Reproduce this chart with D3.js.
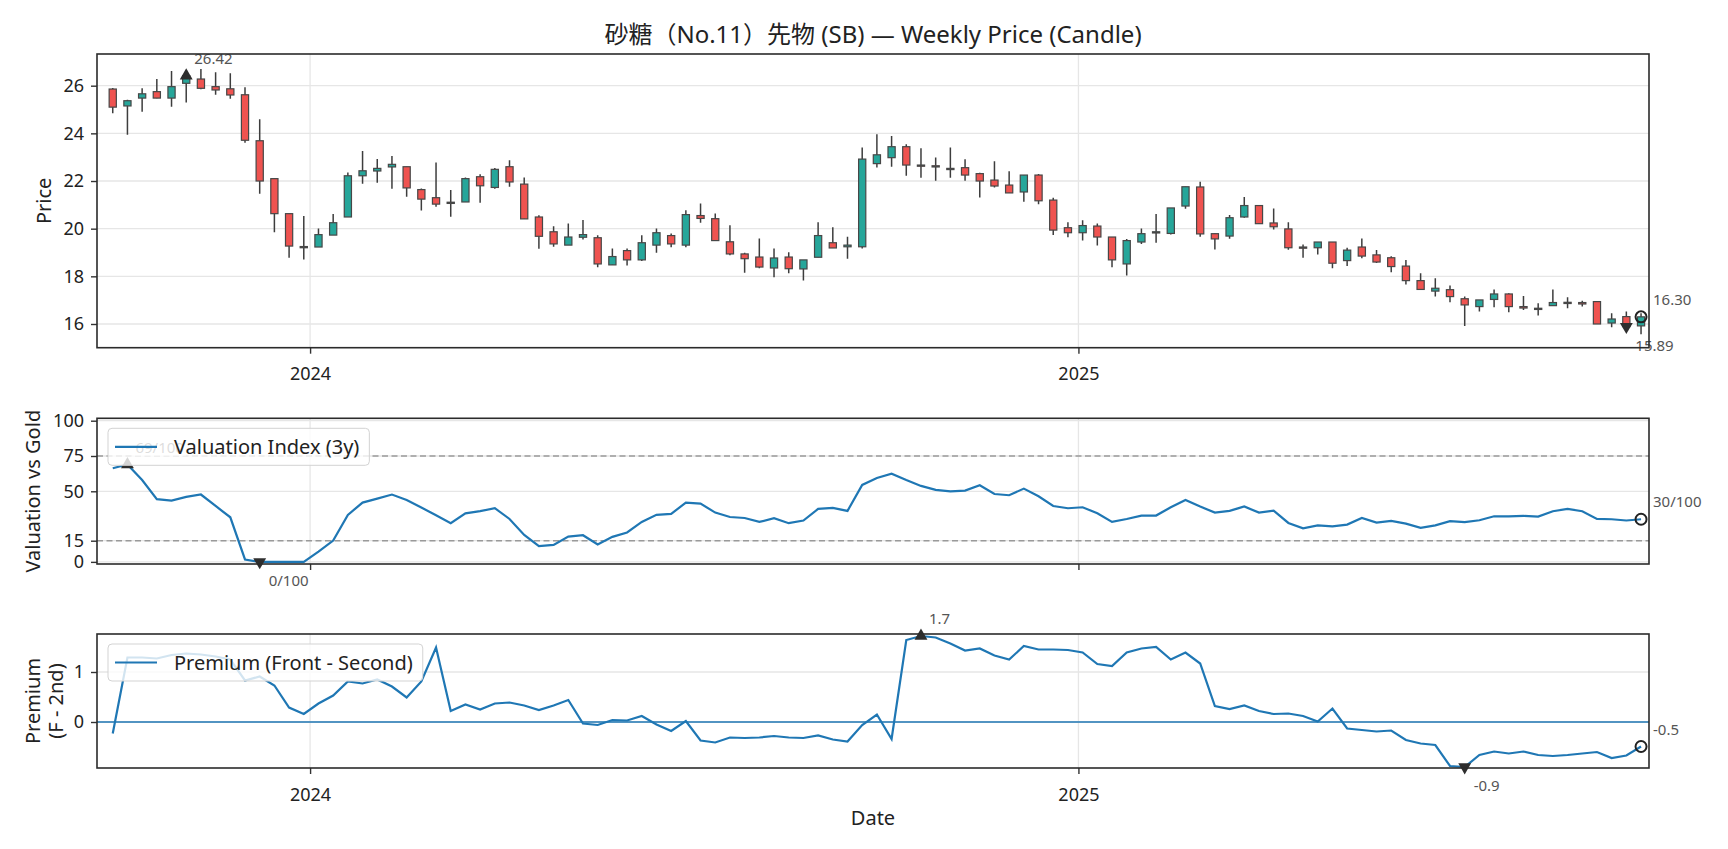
<!DOCTYPE html>
<html>
<head>
<meta charset="utf-8">
<script src="https://cdn.jsdelivr.net/npm/d3@7"></script>
<style>
  body { margin: 0; background: #fff; }
  text { font-family: "Noto Sans", "Noto Sans CJK JP", sans-serif; }
</style>
</head>
<body>
<div id="chart"></div>
<script>
// weekly bars, the first one closes on this date
var firstWeek = "2023-09-29";

var open = [25.86, 25.15, 25.48, 25.75, 25.48, 26.10, 26.28, 25.96, 25.87, 25.62,
  23.69, 22.10, 20.63, 19.25, 19.23, 19.73, 20.49, 22.22, 22.42, 22.59,
  22.60, 21.64, 21.30, 21.10, 21.12, 22.18, 21.73, 22.60, 21.87, 20.49,
  19.87, 19.31, 19.64, 19.62, 18.48, 19.08, 18.69, 19.31, 19.71, 19.31,
  20.55, 20.42, 19.45, 18.94, 18.81, 18.35, 18.81, 18.31, 18.80, 19.41,
  19.24, 19.24, 22.73, 22.98, 23.44, 22.67, 22.64, 22.53, 22.56, 22.31,
  22.04, 21.83, 21.54, 22.25, 21.20, 20.04, 19.83, 20.11, 19.65, 18.52,
  19.44, 19.85, 19.80, 20.95, 21.75, 19.79, 19.69, 20.49, 20.97, 20.24,
  19.99, 19.23, 19.20, 19.44, 18.66, 19.23, 18.90, 18.78, 18.43, 17.82,
  17.38, 17.44, 17.06, 16.73, 17.03, 17.26, 16.73, 16.63, 16.77, 16.91,
  16.90, 16.94, 16.04, 16.31, 15.92];
var high = [25.90, 25.41, 25.89, 26.28, 26.62, 26.42, 26.70, 26.56, 26.52, 25.93,
  24.59, 22.10, 20.63, 20.53, 20.01, 20.62, 22.36, 23.26, 22.92, 23.05,
  22.60, 21.69, 22.78, 21.62, 22.15, 22.28, 22.55, 22.87, 22.15, 20.56,
  20.10, 20.22, 20.36, 19.72, 19.17, 19.17, 19.72, 20.01, 19.80, 20.77,
  21.06, 20.64, 20.14, 18.99, 19.59, 19.17, 19.01, 18.69, 20.27, 20.06,
  19.66, 23.41, 23.96, 23.89, 23.54, 23.37, 22.99, 23.41, 22.91, 22.35,
  22.83, 22.41, 22.25, 22.29, 21.30, 20.27, 20.35, 20.22, 19.65, 19.57,
  20.01, 20.62, 20.87, 21.76, 21.97, 19.80, 20.57, 21.33, 20.97, 20.85,
  20.27, 19.34, 19.44, 19.44, 19.20, 19.59, 19.10, 18.84, 18.69, 18.13,
  17.92, 17.61, 17.15, 17.01, 17.45, 17.29, 17.17, 16.87, 17.45, 17.12,
  16.98, 16.94, 16.45, 16.52, 16.45];
var low = [24.84, 23.94, 24.91, 25.47, 25.12, 25.29, 25.85, 25.62, 25.45, 23.61,
  21.47, 19.85, 18.78, 18.71, 19.23, 19.73, 20.49, 21.89, 21.93, 21.68,
  21.34, 20.76, 20.92, 20.50, 21.12, 21.09, 21.68, 21.76, 20.41, 19.16,
  19.24, 19.31, 19.55, 18.38, 18.48, 18.45, 18.64, 18.99, 19.22, 19.22,
  20.25, 19.50, 18.88, 18.15, 18.34, 17.96, 18.13, 17.82, 18.80, 19.19,
  18.74, 19.17, 22.57, 22.60, 22.22, 22.14, 22.01, 22.14, 22.01, 21.31,
  21.73, 21.50, 21.13, 21.03, 19.73, 19.64, 19.50, 19.29, 18.38, 18.03,
  19.36, 19.41, 19.76, 20.84, 19.66, 19.13, 19.58, 20.46, 20.20, 19.97,
  19.12, 18.78, 18.92, 18.34, 18.43, 18.76, 18.56, 18.17, 17.66, 17.43,
  17.15, 16.91, 15.92, 16.52, 16.70, 16.49, 16.59, 16.36, 16.77, 16.66,
  16.73, 16.00, 15.86, 15.85, 15.57];
var close = [25.10, 25.37, 25.66, 25.48, 25.96, 26.42, 25.89, 25.82, 25.61, 23.71,
  22.00, 20.63, 19.27, 19.24, 19.75, 20.25, 22.22, 22.43, 22.53, 22.70,
  21.71, 21.24, 21.03, 21.11, 22.10, 21.80, 22.49, 21.96, 20.41, 19.68,
  19.36, 19.65, 19.75, 18.52, 18.83, 18.69, 19.41, 19.83, 19.36, 20.59,
  20.43, 19.50, 18.94, 18.74, 18.39, 18.77, 18.32, 18.69, 19.71, 19.19,
  19.31, 22.92, 23.10, 23.44, 22.67, 22.64, 22.61, 22.50, 22.25, 22.00,
  21.79, 21.50, 22.25, 21.17, 19.94, 19.83, 20.13, 19.65, 18.69, 19.50,
  19.79, 19.87, 20.87, 21.76, 19.78, 19.57, 20.46, 20.97, 20.21, 20.08,
  19.20, 19.22, 19.44, 18.55, 19.10, 18.85, 18.60, 18.41, 17.82, 17.45,
  17.50, 17.15, 16.80, 17.01, 17.26, 16.73, 16.67, 16.66, 16.90, 16.90,
  16.84, 16.00, 16.21, 15.89, 16.30];

var valuation = [66.3, 69, 58.0, 44.4, 43.4, 46.0, 47.7, 39.6, 31.6, 1.7,
  0, 0, 0, 0, 7.3, 15.1, 33.3, 42.0, 44.8, 47.7,
  43.9, 38.5, 33.0, 27.4, 34.4, 35.9, 38.0, 30.4, 19.1, 11.1,
  12.0, 17.9, 18.9, 12.3, 17.7, 20.8, 28.3, 33.3, 34.0, 42.0,
  41.3, 34.9, 31.8, 31.1, 28.3, 30.9, 27.4, 29.3, 37.5, 38.2,
  36.1, 54.5, 59.4, 62.5, 58.0, 53.8, 51.0, 50.0, 50.5, 54.3,
  48.1, 47.2, 51.9, 46.5, 39.6, 38.0, 38.7, 34.4, 28.3, 30.4,
  32.8, 32.8, 38.7, 43.9, 39.2, 34.9, 36.1, 39.2, 34.9, 36.3,
  27.6, 23.8, 25.9, 25.2, 26.4, 31.1, 27.8, 29.0, 27.1, 24.1,
  25.9, 28.8, 28.1, 29.5, 32.3, 32.3, 32.6, 32.1, 35.9, 37.5,
  35.9, 30.4, 30.2, 29.3, 30.2];

var premium = [-0.23, 1.29, 1.29, 1.27, 1.34, 1.37, 1.35, 1.31, 1.25, 0.83,
  0.91, 0.73, 0.29, 0.16, 0.37, 0.53, 0.81, 0.77, 0.85, 0.71,
  0.49, 0.81, 1.49, 0.22, 0.35, 0.25, 0.37, 0.39, 0.33, 0.24,
  0.33, 0.44, -0.03, -0.06, 0.04, 0.03, 0.12, -0.05, -0.18, 0.02,
  -0.37, -0.41, -0.31, -0.32, -0.31, -0.28, -0.31, -0.32, -0.27, -0.35,
  -0.39, -0.06, 0.15, -0.34, 1.64, 1.72, 1.69, 1.57, 1.43, 1.47,
  1.33, 1.25, 1.52, 1.45, 1.45, 1.44, 1.39, 1.16, 1.12, 1.39,
  1.47, 1.50, 1.25, 1.39, 1.17, 0.32, 0.26, 0.33, 0.22, 0.16,
  0.17, 0.12, 0.01, 0.27, -0.13, -0.16, -0.19, -0.17, -0.36, -0.43,
  -0.46, -0.88, -0.90, -0.66, -0.59, -0.63, -0.59, -0.66, -0.68, -0.66,
  -0.63, -0.60, -0.72, -0.67, -0.49];

var priceTicks = [16, 18, 20, 22, 24, 26];
var valTicks = [0, 15, 50, 75, 100];
var valLevels = [15, 75];
var premTicks = [0, 1];
var yearTicks = ["2024-01-01", "2025-01-01"];

var title = "砂糖（No.11）先物 (SB) — Weekly Price (Candle)";

// Build
var w = 1728, h = 849;
var left = 97, right = 1649;
var upColor = "#26a69a", downColor = "#ef5350", edge = "#474747";
var blue = "#1f77b4";

var parseDay = d3.utcParse("%Y-%m-%d");
var dates = close.map(function(d, i) { return d3.utcDay.offset(parseDay(firstWeek), 7 * i); });
var years = yearTicks.map(parseDay);
var last = dates.length - 1;

var x = d3.scaleUtc()
  .domain([d3.utcHour.offset(dates[0], -180), d3.utcHour.offset(dates[last], 91)])
  .range([left, right]);

var svg = d3.select('#chart')
  .append('svg')
  .attr('width', w)
  .attr('height', h)
  .style('background', 'white');

svg.append('text')
  .attr('x', (left + right) / 2)
  .attr('y', 35)
  .attr('dy', '0.35em')
  .attr('text-anchor', 'middle')
  .attr('font-size', 24)
  .attr('fill', '#222')
  .text(title);

function panel(id, top, bottom, domain, ticks, yLabel, showYears) {
  var y = d3.scaleLinear().domain(domain).range([bottom, top]);
  var g = svg.append('g');

  g.append('clipPath').attr('id', id)
    .append('rect').attr('x', left).attr('y', top)
    .attr('width', right - left).attr('height', bottom - top);

  // grid
  g.selectAll('.hgrid').data(ticks).enter().append('line')
    .attr('x1', left).attr('x2', right)
    .attr('y1', function(d) { return y(d); }).attr('y2', function(d) { return y(d); })
    .attr('stroke', '#e6e6e6').attr('stroke-width', 1.3);
  g.selectAll('.vgrid').data(years).enter().append('line')
    .attr('x1', function(d) { return x(d); }).attr('x2', function(d) { return x(d); })
    .attr('y1', top).attr('y2', bottom)
    .attr('stroke', '#e6e6e6').attr('stroke-width', 1.3);

  var ya = g.append('g')
    .attr('transform', 'translate(' + left + ',0)')
    .call(d3.axisLeft(y).tickValues(ticks).tickSize(6).tickPadding(7).tickFormat(d3.format('d')));
  var xa = g.append('g')
    .attr('transform', 'translate(0,' + bottom + ')')
    .call(d3.axisBottom(x).tickValues(years).tickSize(6).tickPadding(14)
      .tickFormat(showYears ? d3.utcFormat('%Y') : ''));
  [ya, xa].forEach(function(a) {
    a.select('.domain').remove();
    a.selectAll('line').attr('stroke', '#333').attr('stroke-width', 1.4);
    a.selectAll('text').attr('font-size', 18).attr('fill', '#222').style('font-family', null);
  });

  var lab = g.append('text')
    .attr('transform', 'translate(' + yLabel.x + ',' + (top + bottom) / 2 + ') rotate(-90)')
    .attr('text-anchor', 'middle')
    .attr('font-size', 20)
    .attr('fill', '#222');
  yLabel.lines.forEach(function(s, k) {
    lab.append('tspan').attr('x', 0).attr('dy', k === 0 ? '0.35em' : '1.15em').text(s);
  });

  var body = g.append('g').attr('clip-path', 'url(#' + id + ')');
  var over = g.append('g');
  return { y: y, g: g, body: body, over: over, top: top, bottom: bottom };
}

function spine(p) {
  p.g.append('rect')
    .attr('x', left).attr('y', p.top)
    .attr('width', right - left).attr('height', p.bottom - p.top)
    .attr('fill', 'none').attr('stroke', '#2b2b2b').attr('stroke-width', 1.6);
}

function marker(p, type, i, v) {
  var cx = x(dates[i]), cy = p.y(v);
  if (type === 'circle') {
    p.over.append('circle').attr('cx', cx).attr('cy', cy).attr('r', 5.5)
      .attr('fill', 'none').attr('stroke', '#222').attr('stroke-width', 2);
  } else {
    p.over.append('path')
      .attr('d', d3.symbol(d3.symbolTriangle, 72)())
      .attr('transform', 'translate(' + cx + ',' + cy + ')' + (type === 'down' ? ' rotate(180)' : ''))
      .attr('fill', '#2e2e2e');
  }
}

function note(p, i, v, label, dx, dy) {
  var t = p.over.append('text')
    .attr('x', x(dates[i]) + dx).attr('y', p.y(v) + dy).attr('dy', '0.35em')
    .attr('font-size', 15).attr('fill', '#555')
    .text(label);
  var b = t.node().getBBox();
  p.over.insert('rect', function() { return t.node(); })
    .attr('x', b.x - 2).attr('y', b.y + 1).attr('width', b.width + 4).attr('height', b.height - 2)
    .attr('fill', 'white').attr('opacity', 0.7);
}

function legend(p, label) {
  var lg = p.over.append('g');
  var top = p.top + 10;
  var box = lg.append('rect').attr('x', 108).attr('y', top).attr('height', 37).attr('rx', 4)
    .attr('fill', 'white').attr('fill-opacity', 0.8).attr('stroke', '#d3d3d3');
  lg.append('line').attr('x1', 115).attr('x2', 157).attr('y1', top + 18.5).attr('y2', top + 18.5)
    .attr('stroke', blue).attr('stroke-width', 2.2);
  var t = lg.append('text').attr('x', 174).attr('y', top + 18.5).attr('dy', '0.35em')
    .attr('font-size', 20).attr('fill', '#222').text(label);
  box.attr('width', 174 - 108 + t.node().getComputedTextLength() + 10);
}

// ---- price candles
var pp = panel('clipPrice', 54, 347.7, [15.005, 27.33], priceTicks, { x: 44, lines: ['Price'] }, true);

var candle = pp.body.selectAll('.candle').data(close).enter().append('g');
candle.append('line')
  .attr('x1', function(d, i) { return x(dates[i]); })
  .attr('x2', function(d, i) { return x(dates[i]); })
  .attr('y1', function(d, i) { return pp.y(high[i]); })
  .attr('y2', function(d, i) { return pp.y(low[i]); })
  .attr('stroke', '#3d3d3d').attr('stroke-width', 1.5);
candle.append('rect')
  .attr('x', function(d, i) { return x(dates[i]) - 3.6; })
  .attr('width', 7.2)
  .attr('y', function(d, i) { return pp.y(Math.max(open[i], d)); })
  .attr('height', function(d, i) { return Math.max(Math.abs(pp.y(open[i]) - pp.y(d)), 1.2); })
  .attr('fill', function(d, i) { return d >= open[i] ? upColor : downColor; })
  .attr('stroke', edge).attr('stroke-width', 1.2);

spine(pp);
var hi = d3.maxIndex(close), lo = d3.minIndex(close);
marker(pp, 'up', hi, close[hi]);
marker(pp, 'down', lo, close[lo]);
marker(pp, 'circle', last, close[last]);
note(pp, hi, close[hi], close[hi].toFixed(2), 8, -17);
note(pp, lo, close[lo], close[lo].toFixed(2), 9, 19);
note(pp, last, close[last], close[last].toFixed(2), 12, -17);

// ---- valuation index
var vp = panel('clipVal', 418.3, 564, [-1.5, 101.7], valTicks, { x: 33, lines: ['Valuation vs Gold'] }, false);
vp.body.selectAll('.level').data(valLevels).enter().append('line')
  .attr('x1', left).attr('x2', right)
  .attr('y1', function(d) { return vp.y(d); }).attr('y2', function(d) { return vp.y(d); })
  .attr('stroke', '#9a9a9a').attr('stroke-width', 1.5).attr('stroke-dasharray', '6,3.5');
vp.body.append('path')
  .datum(valuation)
  .attr('d', d3.line().x(function(d, i) { return x(dates[i]); }).y(function(d) { return vp.y(d); }))
  .attr('fill', 'none').attr('stroke', blue).attr('stroke-width', 2.2);
spine(vp);
var vhi = d3.maxIndex(valuation), vlo = d3.minIndex(valuation);
marker(vp, 'up', vhi, valuation[vhi]);
marker(vp, 'down', vlo, valuation[vlo]);
marker(vp, 'circle', last, valuation[last]);
note(vp, vhi, valuation[vhi], Math.round(valuation[vhi]) + '/100', 8, -17);
note(vp, vlo, valuation[vlo], Math.round(valuation[vlo]) + '/100', 9, 19);
note(vp, last, valuation[last], Math.round(valuation[last]) + '/100', 12, -17);
legend(vp, 'Valuation Index (3y)');

// ---- premium
var bp = panel('clipPrem', 634, 768, [-0.92, 1.76], premTicks, { x: 33, lines: ['Premium', '(F - 2nd)'] }, true);
bp.g.select('text[transform]').attr('transform', 'translate(33,701) rotate(-90)');
bp.body.append('line')
  .attr('x1', left).attr('x2', right).attr('y1', bp.y(0)).attr('y2', bp.y(0))
  .attr('stroke', blue).attr('stroke-width', 1.6);
bp.body.append('path')
  .datum(premium)
  .attr('d', d3.line().x(function(d, i) { return x(dates[i]); }).y(function(d) { return bp.y(d); }))
  .attr('fill', 'none').attr('stroke', blue).attr('stroke-width', 2.2);
spine(bp);
var phi = d3.maxIndex(premium), plo = d3.minIndex(premium);
marker(bp, 'up', phi, premium[phi]);
marker(bp, 'down', plo, premium[plo]);
marker(bp, 'circle', last, premium[last]);
note(bp, phi, premium[phi], premium[phi].toFixed(1), 8, -17);
note(bp, plo, premium[plo], premium[plo].toFixed(1), 9, 19);
note(bp, last, premium[last], premium[last].toFixed(1), 12, -17);
legend(bp, 'Premium (Front - Second)');

svg.append('text')
  .attr('x', (left + right) / 2)
  .attr('y', 818)
  .attr('dy', '0.35em')
  .attr('text-anchor', 'middle')
  .attr('font-size', 20)
  .attr('fill', '#222')
  .text('Date');
</script>
</body>
</html>
